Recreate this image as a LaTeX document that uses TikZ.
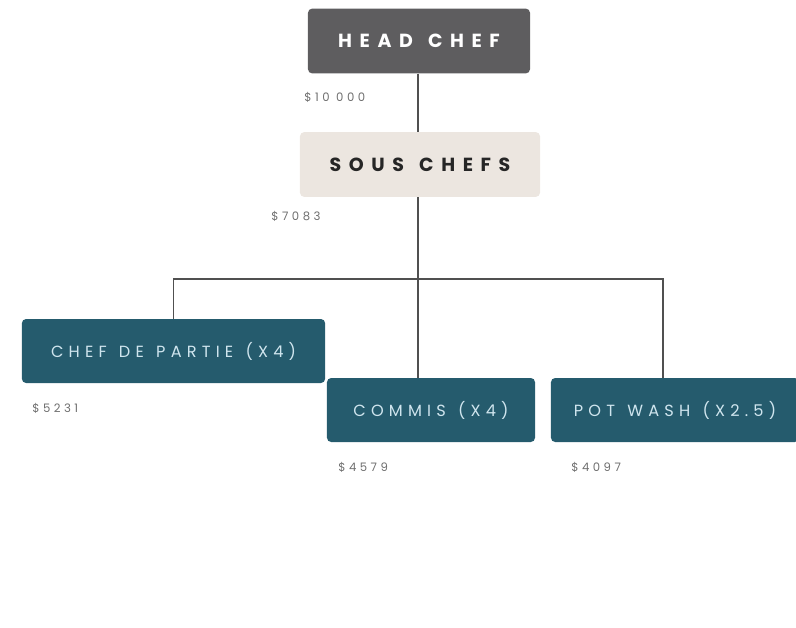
\documentclass[tikz,border=0pt]{standalone}
\usepackage{fontspec}
\setmainfont{Poppins}
\newfontfamily\headfont[LetterSpace=40,WordSpace=1.3]{Poppins}
\newfontfamily\stafffont[LetterSpace=32,WordSpace=1.3]{Poppins}
\newfontfamily\payfont[LetterSpace=30,WordSpace=1.0]{Poppins}
\usepackage{xcolor}
\usetikzlibrary{positioning}
\definecolor{headgray}{HTML}{5E5D5F}
\definecolor{sousbeige}{HTML}{ECE6E0}
\definecolor{staffteal}{HTML}{255B6D}
\definecolor{stafftext}{HTML}{CFE5EE}
\definecolor{paygray}{HTML}{6E6E6E}
\definecolor{linegray}{HTML}{505050}
\tikzset{
  role/.style={rounded corners=3pt,align=center,inner sep=0pt,minimum height=1.62cm},
  head/.style={role,fill=headgray,text=white,font=\headfont\fontsize{13.5}{15}\selectfont\bfseries},
  sous/.style={role,fill=sousbeige,text=black!85,font=\headfont\fontsize{13.5}{15}\selectfont\bfseries},
  staff/.style={role,fill=staffteal,text=stafftext,font=\stafffont\fontsize{11.5}{13}\selectfont},
  pay/.style={font=\payfont\fontsize{8.3}{9}\selectfont,text=paygray,inner sep=0pt},
  link/.style={draw=linegray,line width=1.3pt}
}
\begin{document}
\begin{tikzpicture}[x=0.025cm,y=-0.025cm]
  \useasboundingbox (0,0) rectangle (796,627);
  \node[head,minimum width=5.55cm] (headchef) at (419,41) {HEAD CHEF};
  \node[sous,minimum width=6.0cm] (souschef) at (420,164.5) {SOUS CHEFS};
  \node[staff,minimum width=7.58cm,minimum height=1.6cm] (partie) at (173.5,351) {CHEF DE PARTIE (X4)};
  \node[staff,minimum width=5.2cm,minimum height=1.6cm] (commis) at (431,410) {COMMIS (X4)};
  \node[staff,minimum width=6.2cm,minimum height=1.6cm] (potwash) at (675,410) {POT WASH (X2.5)};
  % salaries
  \node[pay,anchor=west] (payhead) at (304,97) {\$10 000};
  \node[pay,anchor=west] (paysous) at (271,216) {\$7083};
  \node[pay,anchor=west] (paypartie) at (32,408) {\$5231};
  \node[pay,anchor=west] (paycommis) at (338,467) {\$4579};
  \node[pay,anchor=west] (paypot) at (571,467) {\$4097};
  % tree
  \coordinate (split) at (418,279);
  \draw[link] (headchef.south -| split) -- (souschef.north -| split);
  \draw[link] (souschef.south -| split) -- (split);
  \draw[link] (split) -| (partie.north);
  \draw[link] (split) -- (split |- commis.north);
  \draw[link] (split) -| ([xshift=-0.3cm]potwash.north);
\end{tikzpicture}
\end{document}
